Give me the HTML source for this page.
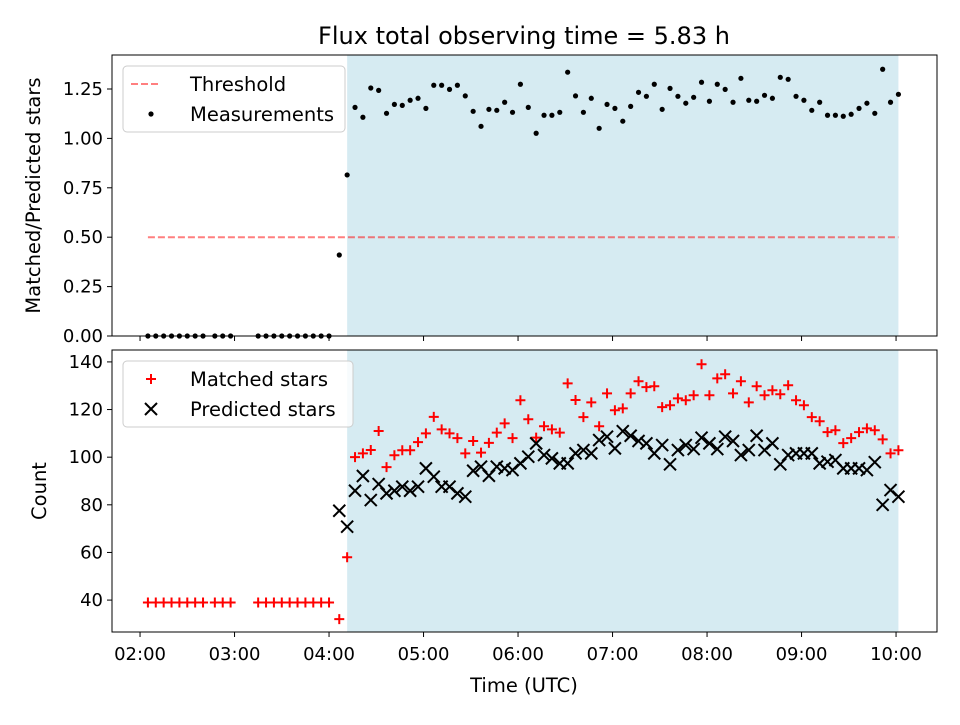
<!DOCTYPE html>
<html><head><meta charset="utf-8"><style>
body{margin:0;background:#fff}
svg text{font-family:"DejaVu Sans","Liberation Sans",sans-serif;fill:#000}
</style></head><body>
<svg id="chart" width="960" height="720" xmlns="http://www.w3.org/2000/svg">
<rect width="960" height="720" fill="#fff"/>
<text x="524" y="44" font-size="24" text-anchor="middle">Flux total observing time = 5.83 h</text>
<g id="top"></g>
<g id="bot"></g>
</svg>
<script>
// times in minutes since 00:00 UTC
const preTimes = [125,130,135,140,145,150,155,160,167.5,172.5,177.5,195,200,205,210,215,220,225,230,235,240];
const rampTimes = [246.5,251.5];
const winTimes = [256.5,261.5,266.5,271.5,276.5,281.5,286.5,291.5,296.5,301.5,306.5,311.5,316.5,321.5,326.5,331.5,336.5,341.5,346.5,351.5,356.5,361.5,366.5,371.5,376.5,381.5,386.5,391.5,396.5,401.5,406.5,411.5,416.5,421.5,426.5,431.5,436.5,441.5,446.5,451.5,456.5,461.5,466.5,471.5,476.5,481.5,486.5,491.5,496.5,501.5,506.5,511.5,516.5,521.5,526.5,531.5,536.5,541.5,546.5,551.5,556.5,561.5,566.5,571.5,576.5,581.5,586.5,591.5,596.5,601.5];
const preRatio = [0,0,0,0,0,0,0,0,0,0,0,0,0,0,0,0,0,0,0,0,0];
const rampRatio = [0.41,0.815];
const winRatio = [1.157,1.107,1.255,1.243,1.127,1.172,1.167,1.193,1.203,1.152,1.269,1.269,1.248,1.269,1.215,1.137,1.061,1.147,1.142,1.183,1.132,1.274,1.157,1.026,1.117,1.117,1.132,1.335,1.215,1.132,1.203,1.051,1.172,1.152,1.087,1.162,1.233,1.213,1.274,1.147,1.253,1.213,1.178,1.208,1.284,1.188,1.274,1.248,1.183,1.304,1.193,1.188,1.218,1.203,1.309,1.299,1.213,1.193,1.142,1.183,1.117,1.117,1.112,1.122,1.152,1.178,1.127,1.350,1.183,1.223];
const preMatched = [39,39,39,39,39,39,39,39,39,39,39,39,39,39,39,39,39,39,39,39,39];
const rampMatched = [32,58];
const winMatched = [100,101.6,103,111,95.8,100.8,102.9,102.9,106.3,110,116.9,111.7,110,108,101.6,106.8,101.9,106,110.3,114.2,108,123.9,115.9,108.2,113,111.7,110.3,131,124,116.8,123,113,126.8,119.7,120.5,126.8,131.9,129.4,129.8,121,121.8,124.7,123.9,126,139,126,133.1,134.8,126.8,131.9,123,129.8,126,128.1,126.4,130.2,123.9,121.8,116.8,115.1,110.5,111.3,105.9,108,110.5,112.1,111.3,107.5,101.6,102.9];
const rampPredicted = [77.5,70.8];
const winPredicted = [85.9,92.1,82,88.7,84.8,85.9,87.6,85.9,87.6,95.3,91.8,87.6,87.6,84.8,83.4,94.3,96,92.2,96,95.3,94.6,97.4,100.2,105.8,100.9,99.5,97.4,97.4,101.6,103,101.6,107.2,108.6,103.7,110.9,109,106.8,105.8,101.6,105.1,97,103,105.1,103.4,108.2,105.8,103.4,108.6,106.8,100.9,103,109,103,105.8,97,100.9,101.6,101.6,101.6,97.4,98.1,98.8,95.3,95.3,95.3,94.6,97.9,80,86.2,83.4];
const xTicks = [120,180,240,300,360,420,480,540,600];
const xTickLabels = ["02:00","03:00","04:00","05:00","06:00","07:00","08:00","09:00","10:00"];
const topTicks = [0,0.25,0.5,0.75,1.0,1.25];
const topTickLabels = ["0.00","0.25","0.50","0.75","1.00","1.25"];
const botTicks = [40,60,80,100,120,140];
const botTickLabels = ["40","60","80","100","120","140"];
const threshold = 0.5;
const spanStart = 251.5, spanEnd = 601.5;

const NS="http://www.w3.org/2000/svg";
const L=112,R=937;
const X0=102.2,X1=626;
const x=t=>L+(t-X0)/(X1-X0)*(R-L);
const T={top:55,bot:336,min:0,max:1.422};
const B={top:350,bot:632,min:26.6,max:145};
const yT=v=>T.bot-(v-T.min)/(T.max-T.min)*(T.bot-T.top);
const yB=v=>B.bot-(v-B.min)/(B.max-B.min)*(B.bot-B.top);
function mk(tag,attrs,parent){const e=document.createElementNS(NS,tag);for(const k in attrs)e.setAttribute(k,attrs[k]);parent.appendChild(e);return e;}
const gt=document.getElementById('top'), gb=document.getElementById('bot');

function panel(g,P,yf,ticks,labels,ylabel,ylx,ylname,showX){
  let s=mk('rect',{x:x(spanStart),y:P.top,width:x(spanEnd)-x(spanStart),height:P.bot-P.top,fill:'#add8e6','fill-opacity':0.5},g);
  
  
  ticks.forEach((v,i)=>{
    const yy=yf(v);
    const t=mk('line',{x1:L-5,x2:L,y1:yy,y2:yy,stroke:'#000','stroke-width':1},g);
    
    
    const tl=mk('text',{x:L-9,y:yy+6,'font-size':18,'text-anchor':'end'},g);
    tl.textContent=labels[i];
    
    
  });
  xTicks.forEach((t,i)=>{
    const xx=x(t);
    const tk=mk('line',{x1:xx,x2:xx,y1:P.bot,y2:P.bot+5,stroke:'#000','stroke-width':1},g);
    
    
    if(showX){
      const tl=mk('text',{x:xx,y:P.bot+28,'font-size':18,'text-anchor':'middle'},g);
      tl.textContent=xTickLabels[i];
      
      
    }
  });
  const yl=mk('text',{x:0,y:0,'font-size':19.5,'text-anchor':'middle',transform:`translate(${ylx},${(P.top+P.bot)/2}) rotate(-90)`},g);
  yl.textContent=ylabel;
  
  
}
panel(gt,T,yT,topTicks,topTickLabels,'Matched/Predicted stars',40,'y-axis-title-ratio',false);
panel(gb,B,yB,botTicks,botTickLabels,'Count',46,'y-axis-title-count',true);

const th=mk('line',{x1:x(preTimes[0]),x2:x(winTimes[winTimes.length-1]),y1:yT(threshold),y2:yT(threshold),stroke:'#ff0000','stroke-opacity':0.5,'stroke-width':2,'stroke-dasharray':'7,3'},gt);



const allT=preTimes.concat(rampTimes,winTimes);
const allR=preRatio.concat(rampRatio,winRatio);
allT.forEach((t,i)=>{
  const c=mk('circle',{cx:x(t),cy:yT(allR[i]),r:2.6,fill:'#000'},gt);
  
  
});
const allM=preMatched.concat(rampMatched,winMatched);
allT.forEach((t,i)=>{
  const cx=x(t),cy=yB(allM[i]);
  const p=mk('path',{d:`M${cx-5},${cy}H${cx+5}M${cx},${cy-5}V${cy+5}`,stroke:'#ff0000','stroke-width':2,fill:'none'},gb);
  
  
});
const pT=rampTimes.concat(winTimes), pV=rampPredicted.concat(winPredicted);
pT.forEach((t,i)=>{
  const cx=x(t),cy=yB(pV[i]);
  const p=mk('path',{d:`M${cx-6},${cy-6}L${cx+6},${cy+6}M${cx-6},${cy+6}L${cx+6},${cy-6}`,stroke:'#000','stroke-width':2,fill:'none'},gb);
  
  
});
[[gt,T,'ratio-axes-frame'],[gb,B,'count-axes-frame']].forEach(([g,P,n])=>{
  const f=mk('rect',{x:L,y:P.top,width:R-L,height:P.bot-P.top,fill:'none',stroke:'#000','stroke-width':1},g);
  
  
});
const xt=mk('text',{x:524,y:692,'font-size':19.5,'text-anchor':'middle'},gb);
xt.textContent='Time (UTC)';



function legend(g,x0,y0,w,items,name){
  const lg=mk('g',{},g);
  
  
  mk('rect',{x:x0,y:y0,width:w,height:66,rx:4,fill:'#fff','fill-opacity':0.8,stroke:'#ccc'},lg);
  items.forEach((it,i)=>{
    const yy=y0+18+i*30, mx=x0+28;
    if(it.type==='dash') mk('line',{x1:mx-20,x2:mx+8,y1:yy,y2:yy,stroke:'#ff0000','stroke-opacity':0.5,'stroke-width':2,'stroke-dasharray':'7,3'},lg);
    if(it.type==='dot') mk('circle',{cx:mx,cy:yy,r:2.6,fill:'#000'},lg);
    if(it.type==='plus') mk('path',{d:`M${mx-5},${yy}H${mx+5}M${mx},${yy-5}V${yy+5}`,stroke:'#f00','stroke-width':2},lg);
    if(it.type==='x') mk('path',{d:`M${mx-6},${yy-6}L${mx+6},${yy+6}M${mx-6},${yy+6}L${mx+6},${yy-6}`,stroke:'#000','stroke-width':2},lg);
    const tx=mk('text',{x:x0+67,y:yy+7,'font-size':19.5},lg);
    tx.textContent=it.label;
    
    
  });
}
legend(gt,123,66,222,[{type:'dash',label:'Threshold'},{type:'dot',label:'Measurements'}],'ratio-legend');
legend(gb,123,361,230,[{type:'plus',label:'Matched stars'},{type:'x',label:'Predicted stars'}],'count-legend');
</script>
</body></html>
